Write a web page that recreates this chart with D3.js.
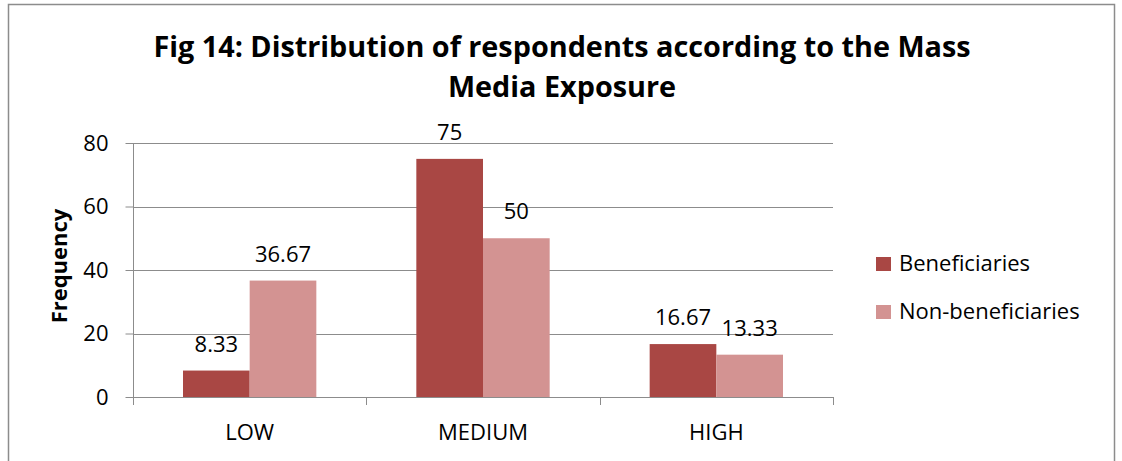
<!DOCTYPE html>
<html>
<head>
<meta charset="utf-8">
<script src="https://cdn.jsdelivr.net/npm/d3@7"></script>
<style>
  html, body { margin: 0; padding: 0; background: #fff; }
  svg { display: block; font-family: "Open Sans", sans-serif; }
</style>
</head>
<body>
<svg id="chart" width="1122" height="461"></svg>
<script>
// Mass media exposure levels and respondent shares
const categories = ["LOW", "MEDIUM", "HIGH"];
const seriesNames = ["Beneficiaries", "Non-beneficiaries"];
const beneficiaries = [8.33, 75, 16.67];
const nonBeneficiaries = [36.67, 50, 13.33];
const yTicks = [0, 20, 40, 60, 80];
const titleLines = ["Fig 14: Distribution of respondents according to the Mass", "Media Exposure"];
const yLabel = "Frequency";

const colors = ["#A94744", "#D39392"];
const seriesValues = [beneficiaries, nonBeneficiaries];
const FONT = "\"Open Sans\", sans-serif";
const TEXT_SIZE = 22;

const svg = d3.select("#chart");

// Outer chart frame
svg.append("rect")
  .attr("x", 8.5).attr("y", 4.5)
  .attr("width", 1106).attr("height", 470)
  .attr("fill", "#fff").attr("stroke", "#8c8c8c").attr("stroke-width", 1.5);

const plot = { left: 133, right: 833, top: 143, bottom: 397 };

const x = d3.scaleBand().domain(categories).range([plot.left, plot.right]);
const xInner = d3.scaleBand().domain(seriesNames).range([0, x.bandwidth()]).paddingInner(0).paddingOuter(0.75);
const y = d3.scaleLinear().domain([0, 80]).range([plot.bottom, plot.top]);

// Gridlines
svg.append("g").selectAll("line").data(yTicks.filter(d => d > 0)).join("line")
  .attr("x1", plot.left).attr("x2", plot.right)
  .attr("y1", d => Math.round(y(d)) + 0.5).attr("y2", d => Math.round(y(d)) + 0.5)
  .attr("stroke", "#8c8c8c").attr("stroke-width", 1);

// Y axis
const yAxis = svg.append("g").attr("transform", `translate(${plot.left + 0.5},0)`)
  .call(d3.axisLeft(y).tickValues(yTicks).tickSize(8).tickPadding(17));
yAxis.select(".domain").attr("stroke", "#8c8c8c").attr("d", `M0,${plot.top}V${plot.bottom}`);
yAxis.selectAll(".tick line").attr("stroke", "#8c8c8c");
yAxis.selectAll(".tick text").attr("font-size", TEXT_SIZE).attr("fill", "#000").attr("font-family", FONT);

// Bars
const groups = svg.append("g").selectAll("g").data(seriesNames).join("g")
  .attr("fill", (d, i) => colors[i]);
const cells = (s, si) => categories.map((c, ci) => ({ c, s, v: seriesValues[si][ci] }));
groups.selectAll("rect").data(cells).join("rect")
  .attr("x", d => x(d.c) + xInner(d.s))
  .attr("width", xInner.bandwidth())
  .attr("y", d => y(d.v))
  .attr("height", d => y(0) - y(d.v));

// X axis
const xAxis = svg.append("g").attr("transform", `translate(0,${plot.bottom + 0.5})`)
  .call(d3.axisBottom(x).tickSize(0).tickPadding(27));
xAxis.select(".domain").attr("stroke", "#8c8c8c").attr("d", `M${plot.left},0H${plot.right}`);
xAxis.selectAll(".tick text").attr("font-size", TEXT_SIZE).attr("fill", "#000").attr("font-family", FONT);
// Category separator ticks
svg.append("g").selectAll("line").data(d3.range(categories.length + 1)).join("line")
  .attr("x1", i => Math.round(plot.left + i * x.step()) + 0.5)
  .attr("x2", i => Math.round(plot.left + i * x.step()) + 0.5)
  .attr("y1", plot.bottom).attr("y2", plot.bottom + 8)
  .attr("stroke", "#8c8c8c");

// Data labels
groups.selectAll("text").data(cells).join("text")
  .attr("x", d => x(d.c) + xInner(d.s) + xInner.bandwidth() / 2)
  .attr("y", d => y(d.v) - 19)
  .attr("text-anchor", "middle")
  .attr("font-size", TEXT_SIZE).attr("fill", "#000")
  .text(d => d3.format("~r")(d.v));

// Title
const title = svg.append("text").attr("text-anchor", "middle")
  .attr("font-weight", "bold").attr("font-size", 28.8).attr("fill", "#000");
title.selectAll("tspan").data(titleLines).join("tspan")
  .attr("x", 562).attr("y", (d, i) => 57 + i * 40).text(d => d);

// Y axis title
svg.append("text")
  .attr("transform", `translate(67,${(plot.top + plot.bottom) / 2 - 4}) rotate(-90)`)
  .attr("text-anchor", "middle").attr("font-weight", "bold").attr("font-size", 22)
  .text(yLabel);

// Legend
const legend = svg.append("g").selectAll("g").data(seriesNames).join("g")
  .attr("transform", (d, i) => `translate(876,${257 + i * 48})`);
legend.append("rect").attr("width", 15).attr("height", 14).attr("fill", (d, i) => colors[i]);
legend.append("text").attr("x", 23).attr("y", 14).attr("font-size", TEXT_SIZE).attr("fill", "#000").text(d => d);
</script>
</body>
</html>
